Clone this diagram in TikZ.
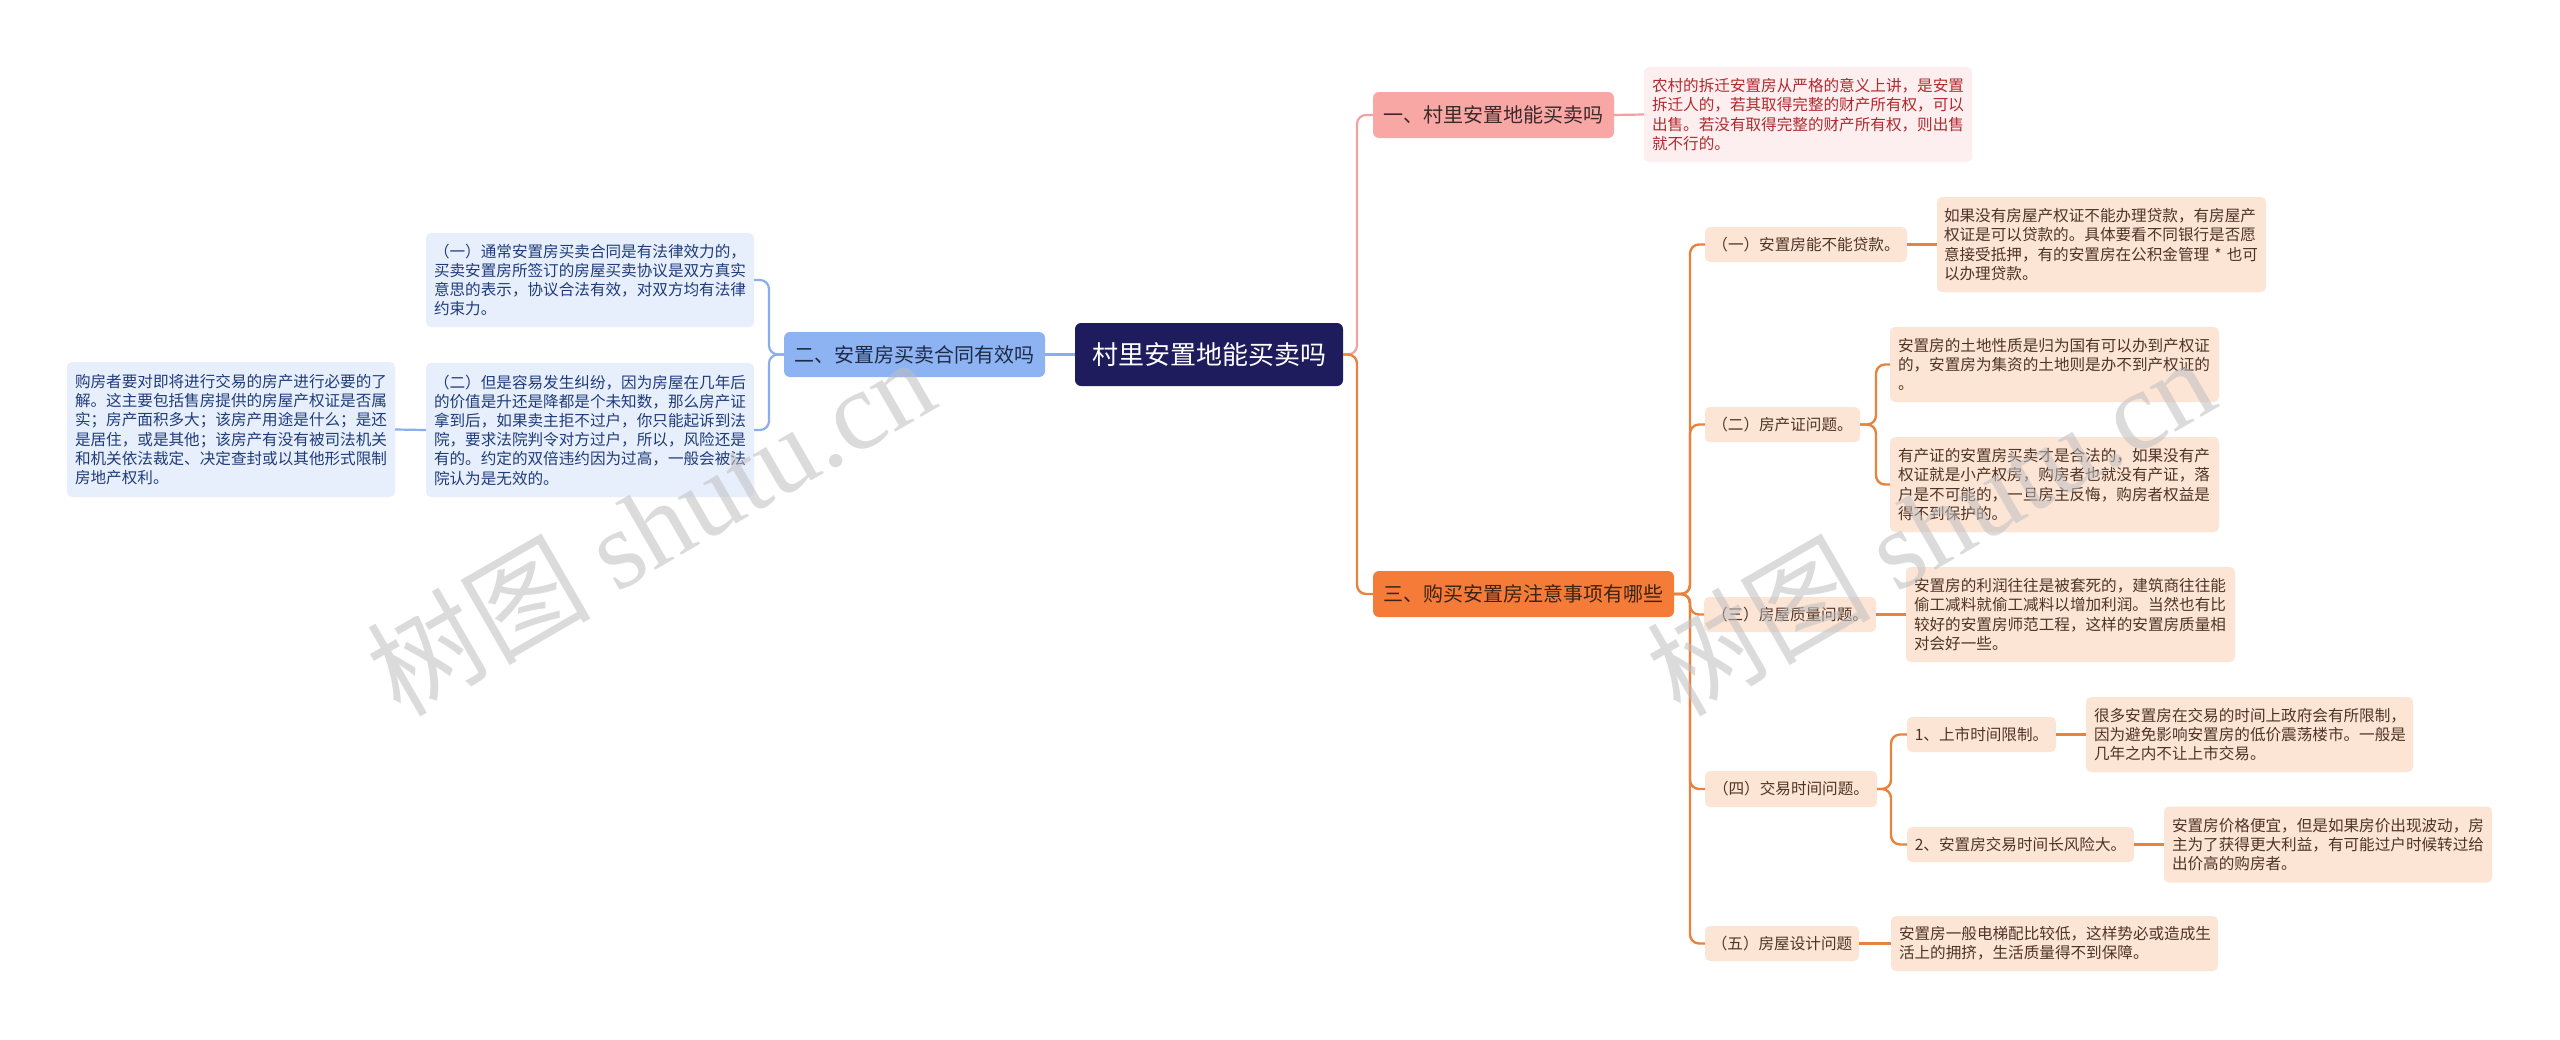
\documentclass[tikz,border=0pt]{standalone}
\usepackage{fontspec}
\setmainfont{Noto Sans CJK SC}
\newfontfamily\wmserif{Liberation Serif}
\definecolor{rootfill}{HTML}{1E1C5C}
\definecolor{bonefill}{HTML}{F8A7A5}
\definecolor{bonetext}{HTML}{3A2A2A}
\definecolor{pinkline}{HTML}{F2A19F}
\definecolor{pleaffill}{HTML}{FDEFEF}
\definecolor{pleaftext}{HTML}{B02A2E}
\definecolor{btwofill}{HTML}{8EB3F2}
\definecolor{btwotext}{HTML}{1E2B48}
\definecolor{blueline}{HTML}{8BAEEA}
\definecolor{bleaffill}{HTML}{E8EFFC}
\definecolor{bleaftext}{HTML}{1F3C7A}
\definecolor{bthreefill}{HTML}{F57C38}
\definecolor{bthreetext}{HTML}{3A2415}
\definecolor{orangeline}{HTML}{E7833F}
\definecolor{oleaffill}{HTML}{FDE5D6}
\definecolor{oleaftext}{HTML}{4E3426}
\begin{document}
\begin{tikzpicture}[x=1pt,y=-1pt,
  every node/.style={inner sep=0pt, outer sep=0pt},
  rootbox/.style={fill=rootfill, rounded corners=6pt, text=white, font=\fontsize{26}{30}\selectfont},
  bonebox/.style={fill=bonefill, rounded corners=6pt, text=bonetext, font=\fontsize{20}{24}\selectfont},
  btwobox/.style={fill=btwofill, rounded corners=6pt, text=btwotext, font=\fontsize{20}{24}\selectfont},
  bthreebox/.style={fill=bthreefill, rounded corners=6pt, text=bthreetext, font=\fontsize{20}{24}\selectfont},
  pleaf/.style={fill=pleaffill, rounded corners=5pt, text=pleaftext, align=left, font=\fontsize{15.6}{19.2}\selectfont},
  bleaf/.style={fill=bleaffill, rounded corners=5pt, text=bleaftext, align=left, font=\fontsize{15.6}{19.2}\selectfont},
  oleaf/.style={fill=oleaffill, rounded corners=5pt, text=oleaftext, align=left, font=\fontsize{15.6}{19.2}\selectfont},
  osub/.style={fill=oleaffill, rounded corners=5pt, text=oleaftext, align=center, font=\fontsize{15.6}{19.2}\selectfont},
  pline/.style={draw=pinkline, line width=2.2pt, rounded corners=9pt},
  bline/.style={draw=blueline, line width=2.2pt, rounded corners=9pt},
  oline/.style={draw=orangeline, line width=2.4pt, rounded corners=9pt},
  wm/.style={text=black!25, opacity=0.55, rotate=30, font=\fontsize{112}{120}\selectfont}
]
\useasboundingbox (0,0) rectangle (2560,1039);
\fill[white] (0,0) rectangle (2560,1039);

% junctions
\coordinate (j0) at (1357,354.5);
\coordinate (jb2) at (769,354.5);
\coordinate (j3) at (1690,594);
\coordinate (js2) at (1876,424.5);
\coordinate (js4) at (1891,789);

% root
\node[rootbox, minimum width=268pt, minimum height=63pt] (root) at (1209,354.5) {村里安置地能买卖吗};

% branch 1
\node[bonebox, minimum width=241pt, minimum height=46pt] (b1) at (1493.5,115) {一、村里安置地能买卖吗};
\node[pleaf, minimum width=328pt, minimum height=95pt, text width=312pt] (l1) at (1808,114.5) {农村的拆迁安置房从严格的意义上讲，是安置\\拆迁人的，若其取得完整的财产所有权，可以\\出售。若没有取得完整的财产所有权，则出售\\就不行的。};

% branch 2
\node[btwobox, minimum width=261pt, minimum height=45pt] (b2) at (914.5,354.5) {二、安置房买卖合同有效吗};
\node[bleaf, minimum width=328pt, minimum height=94pt, text width=312pt] (l2a) at (590,280) {（一）通常安置房买卖合同是有法律效力的，\\买卖安置房所签订的房屋买卖协议是双方真实\\意思的表示，协议合法有效，对双方均有法律\\约束力。};
\node[bleaf, minimum width=328pt, minimum height=134pt, text width=312pt] (l2b) at (590,430) {（二）但是容易发生纠纷，因为房屋在几年后\\的价值是升还是降都是个未知数，那么房产证\\拿到后，如果卖主拒不过户，你只能起诉到法\\院，要求法院判令对方过户，所以，风险还是\\有的。约定的双倍违约因为过高，一般会被法\\院认为是无效的。};
\node[bleaf, minimum width=328pt, minimum height=135pt, text width=312pt] (l2c) at (231,429.5) {购房者要对即将进行交易的房产进行必要的了\\解。这主要包括售房提供的房屋产权证是否属\\实；房产面积多大；该房产用途是什么；是还\\是居住，或是其他；该房产有没有被司法机关\\和机关依法裁定、决定查封或以其他形式限制\\房地产权利。};

% branch 3
\node[bthreebox, minimum width=301pt, minimum height=46pt] (b3) at (1523.5,594) {三、购买安置房注意事项有哪些};

\node[osub, minimum width=202pt, minimum height=35pt] (s1) at (1806,244.5) {（一）安置房能不能贷款。};
\node[oleaf, minimum width=329pt, minimum height=95pt, text width=315pt] (l31) at (2101.5,244.5) {如果没有房屋产权证不能办理贷款，有房屋产\\权证是可以贷款的。具体要看不同银行是否愿\\意接受抵押，有的安置房在公积金管理~*~也可\\以办理贷款。};

\node[osub, minimum width=155pt, minimum height=35pt] (s2) at (1782.5,424.5) {（二）房产证问题。};
\node[oleaf, minimum width=329pt, minimum height=75pt, text width=313pt] (l32a) at (2054.5,364.5) {安置房的土地性质是归为国有可以办到产权证\\的，安置房为集资的土地则是办不到产权证的\\。};
\node[oleaf, minimum width=329pt, minimum height=95pt, text width=313pt] (l32b) at (2054.5,484.5) {有产证的安置房买卖才是合法的，如果没有产\\权证就是小产权房，购房者也就没有产证，落\\户是不可能的，一旦房主反悔，购房者权益是\\得不到保护的。};

\node[osub, minimum width=172pt, minimum height=35pt] (s3) at (1790,614.5) {（三）房屋质量问题。};
\node[oleaf, minimum width=329pt, minimum height=95pt, text width=313pt] (l33) at (2070.5,614.5) {安置房的利润往往是被套死的，建筑商往往能\\偷工减料就偷工减料以增加利润。当然也有比\\较好的安置房师范工程，这样的安置房质量相\\对会好一些。};

\node[osub, minimum width=172pt, minimum height=36pt] (s4) at (1791,789) {（四）交易时间问题。};
\node[osub, minimum width=149pt, minimum height=35pt] (s41) at (1981.5,734.5) {1、上市时间限制。};
\node[oleaf, minimum width=327pt, minimum height=75pt, text width=311pt] (l341) at (2249.5,734.5) {很多安置房在交易的时间上政府会有所限制，\\因为避免影响安置房的低价震荡楼市。一般是\\几年之内不让上市交易。};
\node[osub, minimum width=227pt, minimum height=35pt] (s42) at (2020.5,844.5) {2、安置房交易时间长风险大。};
\node[oleaf, minimum width=328pt, minimum height=76pt, text width=312pt] (l342) at (2328,844.5) {安置房价格便宜，但是如果房价出现波动，房\\主为了获得更大利益，有可能过户时候转过给\\出价高的购房者。};

\node[osub, minimum width=154pt, minimum height=35pt] (s5) at (1782,943.5) {（五）房屋设计问题};
\node[oleaf, minimum width=327pt, minimum height=55pt, text width=311pt] (l35) at (2054.5,943.5) {安置房一般电梯配比较低，这样势必或造成生\\活上的拥挤，生活质量得不到保障。};

% connectors
\draw[pline] (root.east) -- (j0) |- (b1.west);
\draw[oline] (root.east) -- (j0) |- (b3.west);
\draw[bline] (root.west) -- (b2.east);
\draw[bline] (b2.west) -- (jb2) |- (l2a.east);
\draw[bline] (b2.west) -- (jb2) |- (l2b.east);
\draw[bline] (l2b.west) -- (l2c.east);
\draw[pline] (b1.east) -- (l1.west);
\foreach \s in {s1,s2,s3,s4,s5} {\draw[oline] (b3.east) -- (j3) |- (\s.west);}
\draw[oline] (s1.east) -- (l31.west);
\draw[oline] (s2.east) -- (js2) |- (l32a.west);
\draw[oline] (s2.east) -- (js2) |- (l32b.west);
\draw[oline] (s3.east) -- (l33.west);
\draw[oline] (s4.east) -- (js4) |- (s41.west);
\draw[oline] (s4.east) -- (js4) |- (s42.west);
\draw[oline] (s41.east) -- (l341.west);
\draw[oline] (s42.east) -- (l342.west);
\draw[oline] (s5.east) -- (l35.west);

% watermarks
\node[wm] (wm1) at (650,525) {树图 {\wmserif shutu.cn}};
\node[wm] (wm2) at (1930,525) {树图 {\wmserif shutu.cn}};
\end{tikzpicture}
\end{document}
